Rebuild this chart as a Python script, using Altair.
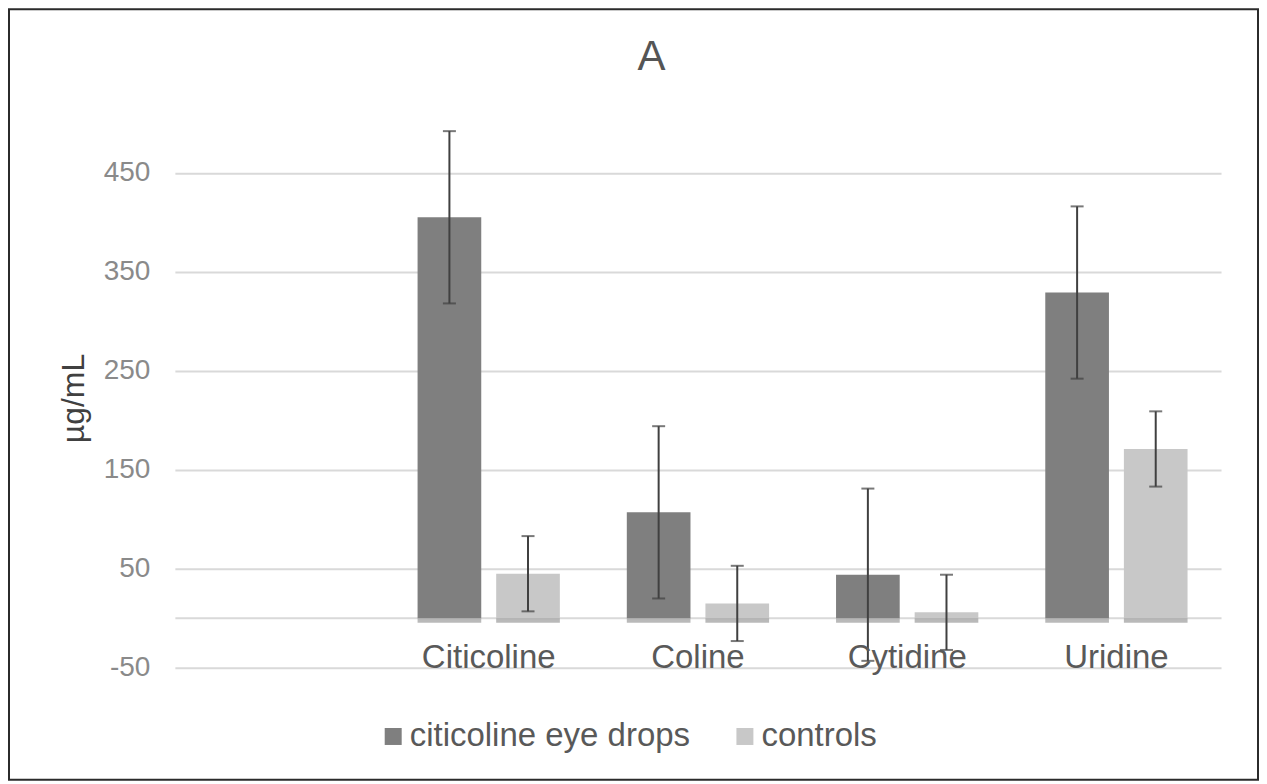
import altair as alt
import pandas as pd

categories = ["Citicoline", "Coline", "Cytidine", "Uridine"]
series = ["citicoline eye drops", "controls"]
eye_drops = [405, 107, 44, 329]
eye_drops_err = [87, 87, 87, 87]
controls = [45, 15, 6, 171]
controls_err = [38, 38, 38, 38]
chart_title = "A"

x_domain = [" "] + categories
y_ticks = [-50, 0, 50, 150, 250, 350, 450]

rows = []
for i, c in enumerate(categories):
    rows.append({"cat": c, "series": series[0], "value": eye_drops[i], "err": eye_drops_err[i]})
    rows.append({"cat": c, "series": series[1], "value": controls[i], "err": controls_err[i]})
df = pd.DataFrame(rows)
df["lo"] = df["value"] - df["err"]
df["hi"] = df["value"] + df["err"]
df["s0"] = 0
df["s1"] = -4.5

FONT = "Liberation Sans"
W, H = 1047, 545

xenc = alt.X("cat:N", scale=alt.Scale(domain=x_domain, paddingInner=0.32, paddingOuter=0.16), axis=None)
xoff = alt.XOffset("series:N", scale=alt.Scale(domain=series, paddingInner=0.19, paddingOuter=0))

yscale = alt.Scale(domain=[-50, 500], nice=False, zero=False)
yaxis = alt.Axis(values=y_ticks, labelExpr="datum.value == 0 ? '' : '' + datum.value",
                 grid=True, gridColor="#d9d9d9", gridWidth=2, domain=False, ticks=False,
                 labelFont=FONT, labelFontSize=28, labelColor="#8a8a8a", labelPadding=25,
                 titleFont=FONT, titleFontSize=32, titleFontWeight="normal",
                 titleColor="#404040", titleX=-101, titleY=275, titleAngle=-90,
                 titleAlign="center", titleBaseline="middle")
YT = "µg/mL"


def yenc(field):
    return alt.Y(field, scale=yscale, axis=yaxis, title=YT)


base = alt.Chart(df)

bars = base.mark_bar().encode(
    x=xenc,
    xOffset=xoff,
    y=yenc("value:Q"),
    color=alt.Color("series:N", scale=alt.Scale(domain=series, range=["#7f7f7f", "#c8c8c8"]),
                    legend=alt.Legend(title=None, orient="none", direction="horizontal",
                                      legendX=202, legendY=597, symbolType="square", symbolSize=289,
                                      symbolStrokeWidth=0, labelFont=FONT, labelFontSize=33,
                                      labelColor="#595959", labelOffset=0, columnPadding=38,
                                      labelLimit=500)),
)

shadow = base.mark_bar(color="#949494", opacity=0.65).encode(
    x=xenc, xOffset=xoff,
    y=yenc("s0:Q"), y2="s1:Q",
)

rules = base.mark_rule(color="#404040", strokeWidth=2).encode(
    x=xenc, xOffset=xoff,
    y=yenc("lo:Q"), y2="hi:Q",
)

cap_lo = base.mark_tick(color="#404040", thickness=2, size=13, orient="horizontal").encode(
    x=xenc, xOffset=xoff, y=yenc("lo:Q"))
cap_hi = base.mark_tick(color="#404040", thickness=2, size=13, orient="horizontal").encode(
    x=xenc, xOffset=xoff, y=yenc("hi:Q"))

labels_df = pd.DataFrame({"cat": categories, "zero": [0] * len(categories)})
cat_labels = alt.Chart(labels_df).mark_text(
    font=FONT, fontSize=33, color="#595959", baseline="alphabetic", dy=50
).encode(x=xenc, y=yenc("zero:Q"), text="cat:N")

one = pd.DataFrame({"t": [chart_title]})
title_mark = alt.Chart(one).mark_text(
    font=FONT, fontSize=42, color="#555555", baseline="alphabetic", align="center"
).encode(x=alt.value(477), y=alt.value(-53), text="t:N")

frame = alt.Chart(one).mark_rect(
    filled=False, stroke="#2b2b2b", strokeWidth=2
).encode(x=alt.value(-166), x2=alt.value(1084), y=alt.value(-114), y2=alt.value(657))

chart = alt.layer(bars, shadow, rules, cap_lo, cap_hi, cat_labels, title_mark, frame).properties(
    width=W, height=H,
    autosize=alt.AutoSizeParams(type="none"),
    padding={"left": 167, "top": 115, "right": 38, "bottom": 114},
).configure(background="white", view=alt.ViewConfig(stroke="transparent", strokeWidth=0))

chart.save("out.html", embed_options={"renderer": "svg", "actions": False})
